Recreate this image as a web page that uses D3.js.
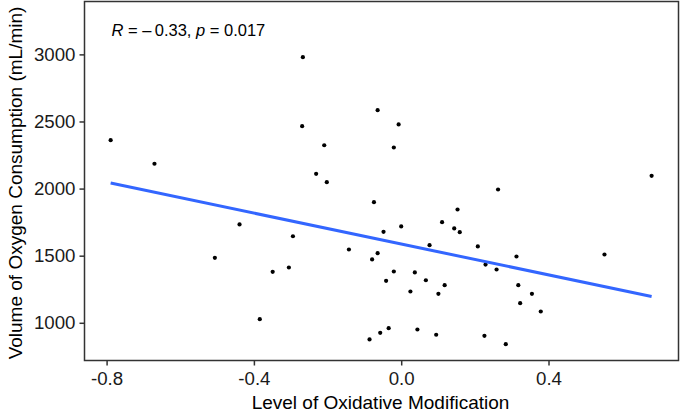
<!DOCTYPE html>
<html><head><meta charset="utf-8">
<script src="https://cdn.jsdelivr.net/npm/d3@7"></script>
<style>body{margin:0;background:#fff}text{font-family:"Liberation Sans",Arial,sans-serif}</style>
</head><body><svg id="c" width="693" height="413"></svg>
<script>
const oxidation = [-0.789,-0.670,-0.267,-0.269,-0.209,-0.231,-0.202,-0.064,-0.007,-0.020,0.680,0.263,-0.074,0.153,-0.439,-0.294,-0.506,-0.349,-0.305,-0.384,-0.142,0.111,0.144,0.159,0.000,-0.048,0.077,0.208,0.313,0.552,-0.079,-0.064,0.229,0.259,-0.020,0.037,-0.041,0.067,0.118,0.318,0.355,0.025,0.101,0.323,0.379,-0.034,0.044,-0.057,-0.086,0.095,0.226,0.284];
const oxygen = [2361,2185,2979,2465,2323,2110,2048,2584,2478,2306,2095,1993,1899,1844,1733,1645,1484,1380,1412,1027,1546,1750,1703,1675,1718,1678,1578,1569,1494,1509,1472,1519,1434,1397,1382,1375,1313,1317,1280,1280,1216,1233,1216,1146,1084,960,950,925,876,911,903,841];
const xTicks = [-0.8,-0.4,0.0,0.4];
const xTickLabels = ["-0.8","-0.4","0.0","0.4"];
const yTicks = [1000,1500,2000,2500,3000];
const xLabel = "Level of Oxidative Modification";
const yLabel = "Volume of Oxygen Consumption (mL/min)";
const statR = "\u2013\u20090.33", statP = "0.017";

const svg = d3.select("#c");
const L=84.5, R=678.5, T=1.5, B=360.5;
const x = d3.scaleLinear().domain([-0.860,0.753]).range([L,R]);
const y = d3.scaleLinear().domain([719,3394]).range([B,T]);

// regression
const n = oxidation.length;
const mx = d3.mean(oxidation), my = d3.mean(oxygen);
let sxy=0, sxx=0;
for(let i=0;i<n;i++){sxy+=(oxidation[i]-mx)*(oxygen[i]-my);sxx+=(oxidation[i]-mx)**2;}
const slope = sxy/sxx, icpt = my - slope*mx;
const [x0,x1] = d3.extent(oxidation);

const g = svg.append("g");
g.selectAll("circle").data(oxidation).join("circle")
 .attr("cx",d=>x(d)).attr("cy",(d,i)=>y(oxygen[i])).attr("r",2.1).attr("fill","#000");
g.append("line").attr("x1",x(x0)).attr("x2",x(x1)).attr("y1",y(icpt+slope*x0)).attr("y2",y(icpt+slope*x1))
 .attr("stroke","#3366FF").attr("stroke-width",3);

svg.append("rect").attr("x",L).attr("y",T).attr("width",R-L).attr("height",B-T)
 .attr("fill","none").attr("stroke","#333").attr("stroke-width",1.5);

const xa = svg.append("g").attr("transform",`translate(0,${B})`)
 .call(d3.axisBottom(x).tickValues(xTicks).tickFormat((d,i)=>xTickLabels[i]).tickSize(5).tickPadding(6));
const ya = svg.append("g").attr("transform",`translate(${L},0)`)
 .call(d3.axisLeft(y).tickValues(yTicks).tickFormat(d3.format("d")).tickSize(5).tickPadding(4));
[xa,ya].forEach(a=>{a.select(".domain").remove();
 a.selectAll("line").attr("stroke","#333").attr("stroke-width",1.5);
 a.selectAll("text").attr("fill","#1a1a1a").style("font-size","18.7px").style("font-family","Liberation Sans, Arial, sans-serif");});

svg.append("text").attr("x",(L+R)/2-1).attr("y",409).attr("text-anchor","middle")
 .style("font-size","19px").attr("fill","#000").text(xLabel);
svg.append("text").attr("transform",`translate(22,${(T+B)/2+2}) rotate(-90)`).attr("text-anchor","middle")
 .style("font-size","19px").attr("fill","#000").text(yLabel);

const st = svg.append("text").attr("x",111.5).attr("y",36).style("font-size","16.5px").attr("fill","#000");
st.append("tspan").style("font-style","italic").text("R");
st.append("tspan").text(" = " + statR + ", ");
st.append("tspan").style("font-style","italic").text("p");
st.append("tspan").text(" = " + statP);
</script></body></html>
